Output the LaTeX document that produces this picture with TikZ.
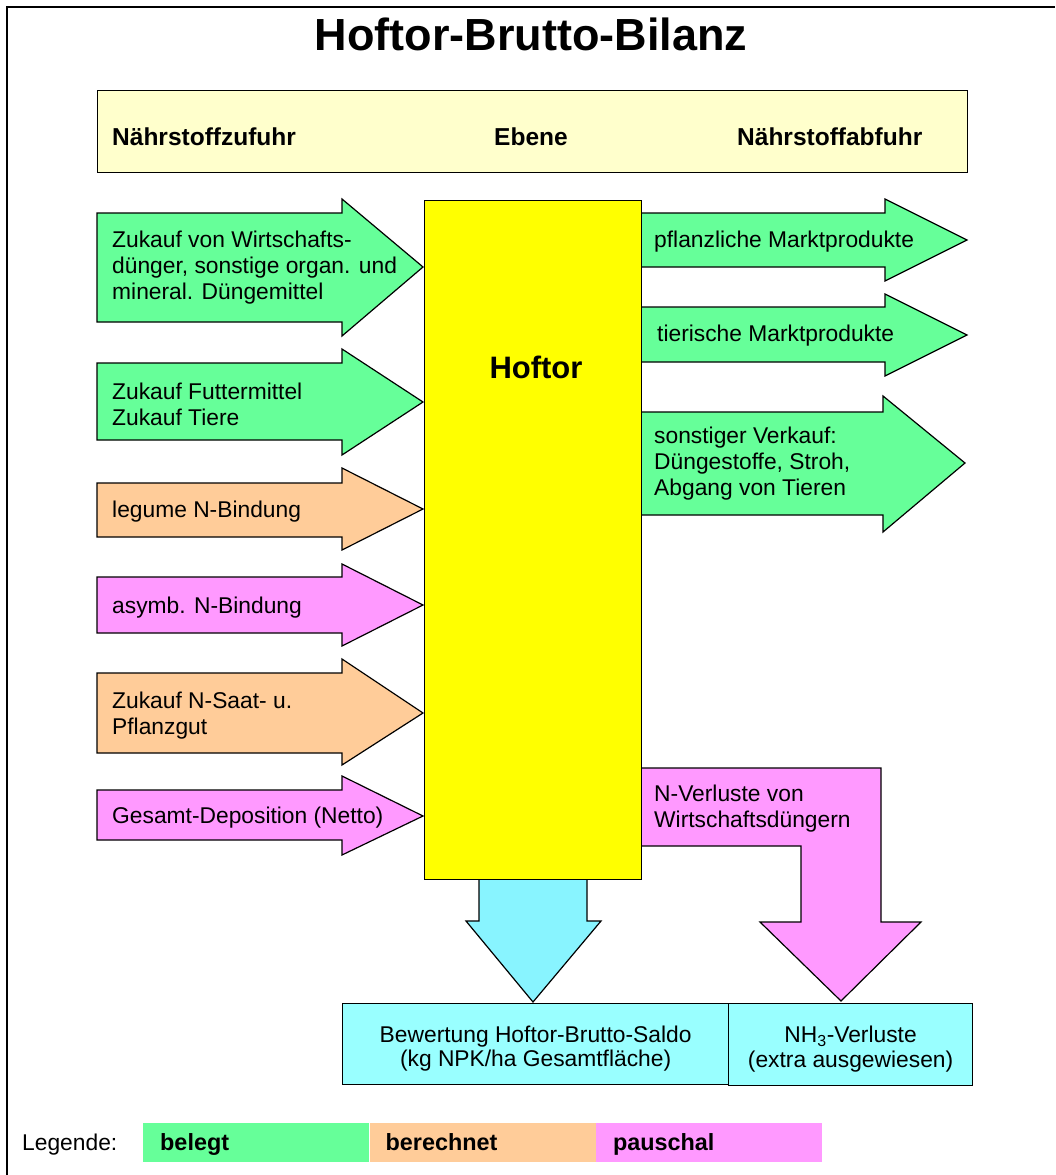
\documentclass[tikz,border=0pt]{standalone}
\usepackage{fontspec}
\setmainfont{Liberation Sans}
\usetikzlibrary{positioning}

\definecolor{belegt}{HTML}{66FF99}
\definecolor{berechnet}{HTML}{FFCC99}
\definecolor{pauschal}{HTML}{FF99FF}
\definecolor{ebene}{HTML}{FFFFCC}
\definecolor{saldo}{HTML}{99FFFF}
\definecolor{saldopfeil}{HTML}{88F4FF}
\definecolor{hofgelb}{HTML}{FFFF00}

\tikzset{
  pfeil/.style={draw=black, line width=1.2pt, line join=miter},
  txt/.style={font=\fontsize{22.8}{26}\selectfont, align=left, anchor=west, inner sep=0pt},
  kopf/.style={font=\bfseries\fontsize{24.5}{28}\selectfont, inner sep=0pt, text height=0.73em, text depth=0.21em},
  kasten/.style={draw, line width=1.2pt, fill=saldo, inner sep=0pt, anchor=north west},
  kastentext/.style={align=center, inner sep=0pt, font=\fontsize{22.8}{24.5}\selectfont},
  legfeld/.style={minimum width=226pt, minimum height=39pt, inner sep=0pt, anchor=north west},
  legtext/.style={font=\bfseries\fontsize{23.4}{26}\selectfont, inner sep=0pt, anchor=west,
    text height=0.73em, text depth=0.21em}
}

\begin{document}
\begin{tikzpicture}[x=1pt, y=-1pt]
\useasboundingbox (0,0) rectangle (1055,1175);
\fill[white] (0,0) rectangle (1055,1175);

% frame and title
\draw[line width=2.5pt] (7,1175) -- (7,7) -- (1055,7);
\node[font=\bfseries\fontsize{45}{50}\selectfont, inner sep=0pt] (titel) at (531,34) {Hoftor-Brutto-Bilanz};

% header
\node[draw, line width=1.2pt, fill=ebene, anchor=north west, minimum width=870pt, minimum height=82pt, inner sep=0pt] (kopfzeile) at (97,90) {};
\node[kopf, anchor=west] (zufuhr) at (112,143) {Nährstoffzufuhr};
\node[kopf] (ebene) at (531,143) {Ebene};
\node[kopf, anchor=west] (abfuhr) at (737,143) {Nährstoffabfuhr};

% Zufuhr
\draw[pfeil, fill=belegt] (97,213) -- (342,213) -- (342,199) -- (423,267) -- (342,336) -- (342,322) -- (97,322) -- cycle;
\node[txt] (wdg) at (112,268) {Zukauf von Wirtschafts-\\dünger, sonstige organ. und\\mineral. Düngemittel};

\draw[pfeil, fill=belegt] (97,363) -- (342,363) -- (342,349) -- (423,402) -- (342,455) -- (342,440) -- (97,440) -- cycle;
\node[txt] (futter) at (112,404) {Zukauf Futtermittel\\Zukauf Tiere};

\draw[pfeil, fill=berechnet] (97,483) -- (342,483) -- (342,468) -- (423,509) -- (342,550) -- (342,537) -- (97,537) -- cycle;
\node[txt] (legum) at (112,512) {legume N-Bindung};

\draw[pfeil, fill=pauschal] (97,577) -- (342,577) -- (342,564) -- (423,605) -- (342,646) -- (342,633) -- (97,633) -- cycle;
\node[txt] (asymb) at (112,608) {asymb. N-Bindung};

\draw[pfeil, fill=berechnet] (97,673) -- (342,673) -- (342,659) -- (423,713) -- (342,765) -- (342,753) -- (97,753) -- cycle;
\node[txt] (saat) at (112,716) {Zukauf N-Saat- u.\\Pflanzgut};

\draw[pfeil, fill=pauschal] (97,790) -- (342,790) -- (342,776) -- (423,816) -- (342,855) -- (342,840) -- (97,840) -- cycle;
\node[txt] (depo) at (112,818) {Gesamt-Deposition (Netto)};

% Abfuhr
\draw[pfeil, fill=belegt] (641,213) -- (885,213) -- (885,199) -- (967,240) -- (885,281) -- (885,267) -- (641,267) -- cycle;
\node[txt] (pflanz) at (654,242) {pflanzliche Marktprodukte};

\draw[pfeil, fill=belegt] (641,307) -- (885,307) -- (885,294) -- (967,335) -- (885,376) -- (885,362) -- (641,362) -- cycle;
\node[txt] (tier) at (657,336) {tierische Marktprodukte};

\draw[pfeil, fill=belegt] (641,412) -- (883,412) -- (883,396) -- (965,463) -- (883,532) -- (883,515) -- (641,515) -- cycle;
\node[txt] (sonst) at (654,464) {sonstiger Verkauf:\\Düngestoffe, Stroh,\\Abgang von Tieren};

% Verluste
\draw[pfeil, fill=pauschal] (641,768) -- (881,768) -- (881,922) -- (921,922) -- (841,1001) -- (760,922) -- (801,922) -- (801,846) -- (641,846) -- cycle;
\node[txt] (nverl) at (654,809) {N-Verluste von\\Wirtschaftsdüngern};

\draw[pfeil, fill=saldopfeil] (479,879) -- (587,879) -- (587,921) -- (601,921) -- (533,1002) -- (466,921) -- (479,921) -- cycle;

% Hoftor
\node[draw, line width=1.2pt, fill=hofgelb, anchor=north west, minimum width=217pt, minimum height=679pt, inner sep=0pt] (hoftor) at (424,200) {};
\node[font=\bfseries\fontsize{31}{34}\selectfont, inner sep=0pt] (hoftortext) at (536,367) {Hoftor};

% Saldo
\node[kasten, minimum width=386pt, minimum height=81pt] (bewertung) at (342,1003) {};
\node[kastentext] (bewertungtext) at ([yshift=-4.5pt]bewertung.center) {Bewertung Hoftor-Brutto-Saldo\\(kg NPK/ha Gesamtfläche)};
\node[kasten, minimum width=244pt, minimum height=82pt] (nhdrei) at (728,1003) {};
\node[kastentext] (nhdreitext) at ([yshift=-4.5pt]nhdrei.center) {NH\textsubscript{3}-Verluste\\(extra ausgewiesen)};

% Legende
\node[font=\fontsize{22.8}{26}\selectfont, inner sep=0pt, anchor=west, text height=0.73em, text depth=0.21em] (legende) at (22,1148) {Legende:};
\node[legfeld, fill=belegt] (belegtfeld) at (143,1123) {};
\node[legfeld, fill=berechnet, right=0pt of belegtfeld] (berechnetfeld) {};
\node[legfeld, fill=pauschal, right=0pt of berechnetfeld] (pauschalfeld) {};
\node[legtext] (belegttext) at ([xshift=17pt, yshift=-5.5pt]belegtfeld.west) {belegt};
\node[legtext] (berechnettext) at ([xshift=16pt, yshift=-5.5pt]berechnetfeld.west) {berechnet};
\node[legtext] (pauschaltext) at ([xshift=17pt, yshift=-5.5pt]pauschalfeld.west) {pauschal};
\end{tikzpicture}
\end{document}
